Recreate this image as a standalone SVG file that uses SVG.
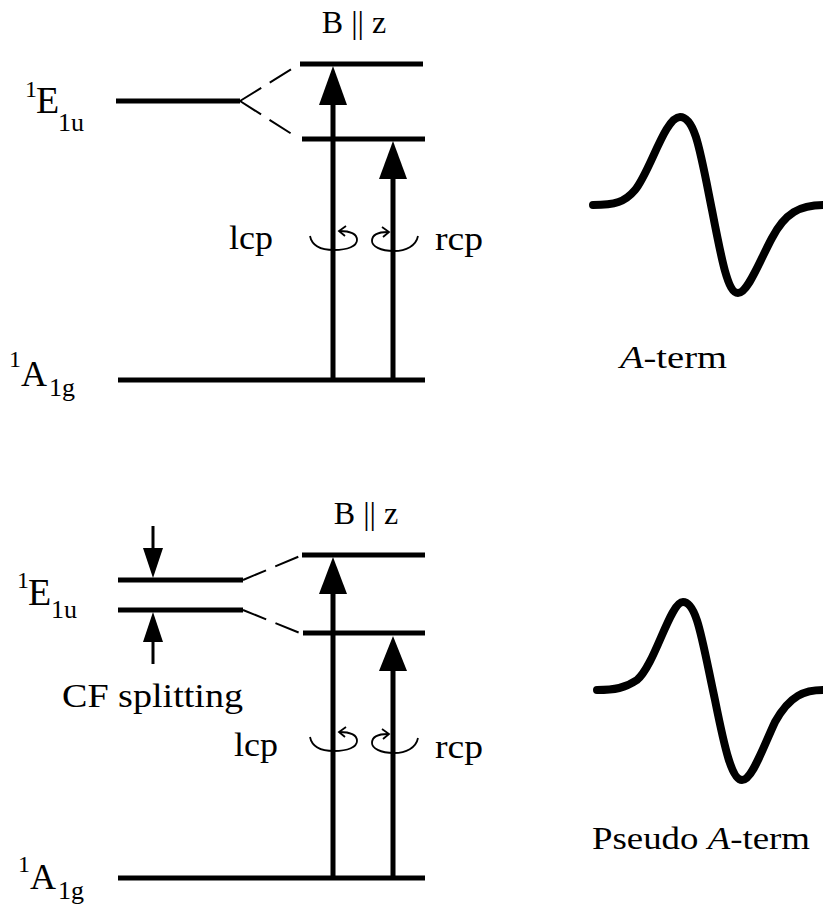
<svg xmlns="http://www.w3.org/2000/svg" width="823" height="905" viewBox="0 0 823 905">
<style>
text{font-family:"Liberation Serif","Times New Roman",serif;fill:#000}
.lvl{stroke:#000;stroke-width:5;fill:none}
.dash{stroke:#000;stroke-width:2;fill:none;stroke-dasharray:25 10}
.shaft{stroke:#000;stroke-width:5;fill:none}
.thin{stroke:#000;stroke-width:3;fill:none}
.rot{stroke:#000;stroke-width:1.8;fill:none}
.spec{stroke:#000;stroke-width:8;fill:none;stroke-linecap:round;stroke-linejoin:round}
.head{fill:#000}
</style>
<rect width="823" height="905" fill="#fff"/>

<g id="top-diagram">
  <g id="top-E1u">
    <line class="lvl" x1="116" y1="101" x2="240" y2="101"/>
    <text><tspan x="25" y="97" font-size="24">1</tspan><tspan x="36" y="113" font-size="38">E</tspan><tspan x="58" y="131" font-size="26">1u</tspan></text>
  </g>
  <g id="top-upper"><line class="lvl" x1="300" y1="64" x2="423" y2="64"/></g>
  <g id="top-lower"><line class="lvl" x1="302" y1="139" x2="425" y2="139"/></g>
  <g id="top-A1g">
    <line class="lvl" x1="118" y1="380" x2="425" y2="380"/>
    <text><tspan x="9" y="367" font-size="24">1</tspan><tspan x="21" y="386" font-size="36">A</tspan><tspan x="49" y="396" font-size="26">1g</tspan></text>
  </g>
  <text id="top-B" x="354" y="33" font-size="32" text-anchor="middle">B || z</text>
  <text id="top-lcp" x="229" y="249" font-size="34" textLength="44" lengthAdjust="spacingAndGlyphs">lcp</text>
  <text id="top-rcp" x="435" y="250" font-size="34" textLength="48" lengthAdjust="spacingAndGlyphs">rcp</text>
  <g id="top-connectors">
    <line class="dash" x1="240" y1="101" x2="298" y2="65"/>
    <line class="dash" x1="240" y1="101" x2="298" y2="138"/>
    <line class="shaft" x1="333" y1="380" x2="333" y2="100"/>
    <polygon class="head" points="333,66 319,105 347,105"/>
    <line class="shaft" x1="393" y1="380" x2="393" y2="175"/>
    <polygon class="head" points="393,141 379,179 407,179"/>
    <path class="rot" d="M310 236 C312 246 322 250 334 250 C348 250 357 246 357 240 C357 234 350 231 339 231"/>
    <path class="rot" d="M346 226 L339 231 L345 236"/>
    <path class="rot" d="M418 236 C416 246 406 251 394 251 C380 251 372 246 372 241 C372 235 378 232 388 232"/>
    <path class="rot" d="M382 227 L389 232 L383 237"/>
  </g>
  <g id="top-spectrum">
    <path class="spec" d="M593 205 C615 205 625 202 635 190 C650 172 665 117 680 117 C695 117 700 150 712 210 C722 262 728 293 738 293 C748 293 760 260 772 238 C785 213 800 205 823 205"/>
    <text x="620" y="368" font-size="32" textLength="107" lengthAdjust="spacingAndGlyphs"><tspan font-style="italic">A</tspan>-term</text>
  </g>
</g>

<g id="bottom-diagram">
  <g id="bot-E1u">
    <line class="lvl" x1="118" y1="580" x2="243" y2="580"/>
    <line class="lvl" x1="118" y1="610" x2="243" y2="610"/>
    <text><tspan x="17" y="588" font-size="24">1</tspan><tspan x="28" y="605" font-size="38">E</tspan><tspan x="51" y="618" font-size="26">1u</tspan></text>
  </g>
  <g id="bot-upper"><line class="lvl" x1="302" y1="555" x2="425" y2="555"/></g>
  <g id="bot-lower"><line class="lvl" x1="303" y1="633" x2="425" y2="633"/></g>
  <g id="bot-A1g">
    <line class="lvl" x1="118" y1="878" x2="425" y2="878"/>
    <text><tspan x="18" y="872" font-size="24">1</tspan><tspan x="30" y="889" font-size="36">A</tspan><tspan x="58" y="899" font-size="26">1g</tspan></text>
  </g>
  <text id="bot-B" x="366" y="524" font-size="32" text-anchor="middle">B || z</text>
  <text id="bot-CF" x="62" y="707" font-size="34" textLength="181" lengthAdjust="spacingAndGlyphs">CF splitting</text>
  <text id="bot-lcp" x="234" y="756" font-size="34" textLength="44" lengthAdjust="spacingAndGlyphs">lcp</text>
  <text id="bot-rcp" x="435" y="758" font-size="34" textLength="48" lengthAdjust="spacingAndGlyphs">rcp</text>
  <g id="bottom-connectors">
    <line class="dash" x1="243" y1="580" x2="300" y2="556"/>
    <line class="dash" x1="243" y1="610" x2="300" y2="633"/>
    <line class="thin" x1="153" y1="526" x2="153" y2="552"/>
    <polygon class="head" points="153,578 143,548 163,548"/>
    <line class="thin" x1="153" y1="640" x2="153" y2="664"/>
    <polygon class="head" points="153,612 143,642 163,642"/>
    <line class="shaft" x1="333" y1="878" x2="333" y2="590"/>
    <polygon class="head" points="333,557 319,594 347,594"/>
    <line class="shaft" x1="393" y1="878" x2="393" y2="668"/>
    <polygon class="head" points="393,636 379,671 407,671"/>
    <path class="rot" d="M310 737 C312 747 322 751 334 751 C348 751 357 747 357 741 C357 735 350 732 339 732"/>
    <path class="rot" d="M346 727 L339 732 L345 737"/>
    <path class="rot" d="M418 738 C416 748 406 753 394 753 C380 753 372 748 372 743 C372 737 378 734 388 734"/>
    <path class="rot" d="M382 729 L389 734 L383 739"/>
  </g>
  <g id="bottom-spectrum">
    <path class="spec" d="M597 690 C615 690 625 688 637 680 C655 665 670 602 683 602 C697 602 702 640 715 700 C725 750 732 780 742 780 C752 780 762 750 775 722 C790 695 805 690 823 690"/>
    <text x="592" y="849" font-size="32" textLength="218" lengthAdjust="spacingAndGlyphs">Pseudo <tspan font-style="italic">A</tspan>-term</text>
  </g>
</g>
</svg>
